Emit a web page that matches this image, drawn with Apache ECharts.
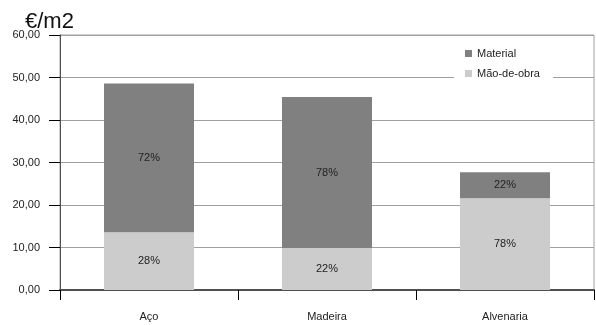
<!DOCTYPE html>
<html>
<head>
<meta charset="utf-8">
<script src="https://cdn.jsdelivr.net/npm/echarts@6/dist/echarts.min.js"></script>
<style>
  html, body { margin: 0; padding: 0; background: #fff; }
  #chart { width: 596px; height: 325px; }
</style>
</head>
<body>
<div id="chart"></div>
<script>
// Custo por m2, dividido em material e mão-de-obra
const categories = ['Aço', 'Madeira', 'Alvenaria'];
const maoDeObra = [13.6, 9.9, 21.6];
const material = [35.0, 35.5, 6.1];
const yTicks = { min: 0, max: 60, interval: 10 };

const FONT = "'Liberation Sans Narrow', 'Arial Narrow', 'Liberation Sans', sans-serif";

function pct(part, other) {
  return Math.round(100 * part / (part + other)) + '%';
}

const chart = echarts.init(document.getElementById('chart'), null, { renderer: 'canvas' });

chart.setOption({
  animation: false,
  backgroundColor: '#fff',
  textStyle: { fontFamily: FONT },
  title: {
    text: '€/m2',
    left: 20,
    top: 6,
    textStyle: { fontFamily: "'Liberation Sans', Arial, sans-serif", fontSize: 22, fontWeight: 'normal', color: '#111' }
  },
  grid: {
    left: 60, right: 2, top: 35, bottom: 35,
    show: true, borderColor: '#a0a0a0', borderWidth: 1, backgroundColor: 'transparent'
  },
  legend: {
    data: ['Material', 'Mão-de-obra'],
    orient: 'vertical',
    left: 454,
    top: 43,
    width: 99,
    padding: [5, 13, 6, 11],
    itemWidth: 7,
    itemHeight: 7,
    itemGap: 9,
    backgroundColor: '#fff',
    icon: 'rect',
    textStyle: { fontFamily: FONT, fontSize: 11, color: '#222' }
  },
  xAxis: {
    type: 'category',
    data: categories,
    axisLine: { lineStyle: { color: '#505050', width: 2 } },
    axisTick: { show: true, alignWithLabel: false, length: 10, lineStyle: { color: '#000', width: 1 } },
    axisLabel: { color: '#222', fontSize: 11, fontFamily: FONT, margin: 21 },
    splitLine: { show: false }
  },
  yAxis: {
    type: 'value',
    min: yTicks.min, max: yTicks.max, interval: yTicks.interval,
    axisLine: { show: true, lineStyle: { color: '#505050', width: 1 } },
    axisTick: { show: true, length: 11, lineStyle: { color: '#000', width: 1 } },
    axisLabel: {
      color: '#222', fontSize: 11, fontFamily: FONT, margin: 20,
      formatter: v => v.toFixed(2).replace('.', ',')
    },
    splitLine: { show: true, lineStyle: { color: '#a0a0a0', width: 1 } }
  },
  series: [
    {
      name: 'Mão-de-obra',
      type: 'bar',
      stack: 'total',
      barWidth: 90,
      data: maoDeObra,
      itemStyle: { color: '#cccccc' },
      label: {
        show: true, position: 'inside', color: '#222', fontSize: 11, fontFamily: FONT,
        formatter: p => pct(maoDeObra[p.dataIndex], material[p.dataIndex])
      }
    },
    {
      name: 'Material',
      type: 'bar',
      stack: 'total',
      barWidth: 90,
      data: material,
      itemStyle: { color: '#808080' },
      label: {
        show: true, position: 'inside', color: '#222', fontSize: 11, fontFamily: FONT,
        formatter: p => pct(material[p.dataIndex], maoDeObra[p.dataIndex])
      }
    }
  ]
});
</script>
</body>
</html>
